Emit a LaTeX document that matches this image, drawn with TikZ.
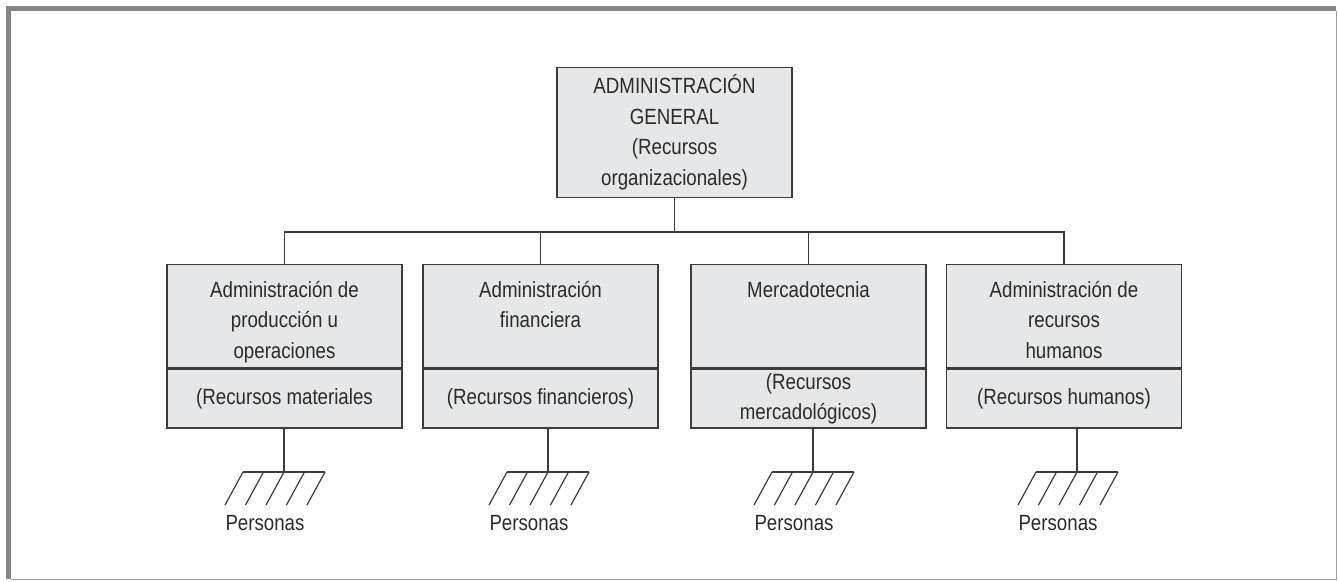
\documentclass[tikz,border=0pt]{standalone}
\usepackage{fontspec}
\setmainfont{Liberation Sans}[FakeStretch=0.85]
\usepackage{tikz}
\usetikzlibrary{positioning,calc}

\definecolor{BoxFill}{HTML}{E6E7E8}
\definecolor{BoxLine}{HTML}{3C3C3C}
\definecolor{InkGray}{HTML}{2B2B2B}
\definecolor{FrameGray}{HTML}{858585}

\newcommand{\boxfont}{\fontsize{22}{30.5}\selectfont}

\tikzset{
  unitbox/.style={draw=BoxLine,fill=BoxFill,line width=1.4pt,minimum width=235pt,inner sep=0pt,anchor=north},
  headbox/.style={unitbox,minimum height=103pt},
  resbox/.style={unitbox,minimum height=59pt,align=center,font=\boxfont,text=InkGray},
  boxtext/.style={align=center,anchor=north,inner sep=0pt,font=\boxfont,text=InkGray},
  wire/.style={draw=BoxLine,line width=1.2pt},
}

\begin{document}
\begin{tikzpicture}[x=1pt,y=-1pt]
  \useasboundingbox (0,0) rectangle (1338,581);
  % frame
  \fill[FrameGray] (6,6) rectangle (1336,11);
  \fill[FrameGray] (6,6) rectangle (11,579);
  \draw[FrameGray!80,line width=1pt] (11,579) -- (1336,579) -- (1336,11);

  % top box
  \node[unitbox,anchor=south,minimum height=130pt,align=center,font=\boxfont,text=InkGray] (gen) at (674.5,198)
    {ADMINISTRACIÓN\\GENERAL\\(Recursos\\organizacionales)};
  \coordinate (bus) at (674.5,232);

  % departments
  \node[headbox] (prod) at (284.5,264) {};
  \node[resbox,below=0pt of prod] (prodres) {(Recursos materiales};
  \node[boxtext] (prodtxt) at ([yshift=-17pt]prod.north) {Administración de\\producción u\\operaciones};

  \node[headbox] (fin) at (540.5,264) {};
  \node[resbox,below=0pt of fin] (finres) {(Recursos financieros)};
  \node[boxtext] (fintxt) at ([yshift=-17pt]fin.north) {Administración\\financiera};

  \node[headbox] (mer) at (808.5,264) {};
  \node[resbox,below=0pt of mer] (merres) {(Recursos\\mercadológicos)};
  \node[boxtext] (mertxt) at ([yshift=-17pt]mer.north) {Mercadotecnia};

  \node[headbox] (hum) at (1064,264) {};
  \node[resbox,below=0pt of hum] (humres) {(Recursos humanos)};
  \node[boxtext] (humtxt) at ([yshift=-17pt]hum.north) {Administración de\\recursos\\humanos};

  % connectors
  \draw[wire] (gen.south) -- (bus);
  \draw[wire] (prod.north) |- (bus) -| (hum.north);
  \draw[wire] (fin.north) -- (fin.north |- bus);
  \draw[wire] (mer.north) -- (mer.north |- bus);

  % people
  \foreach \u/\gx in {prod/284,fin/548,mer/813,hum/1077}{
    \coordinate (\u g) at (\gx,472);
    \draw[wire] (\u res.south -| \u g) -- (\u g);
    \draw[wire] ([xshift=-41pt]\u g) -- ([xshift=41pt]\u g);
    \foreach \i in {0,...,4}
      \draw[wire] ($(\u g)+(-41+20.5*\i,0)$) -- ++(-18,33);
    \node[font=\boxfont,text=InkGray,anchor=base,inner sep=0pt] (\u per) at ($(\u g)+(-19,58)$) {Personas};
  }
\end{tikzpicture}
\end{document}
